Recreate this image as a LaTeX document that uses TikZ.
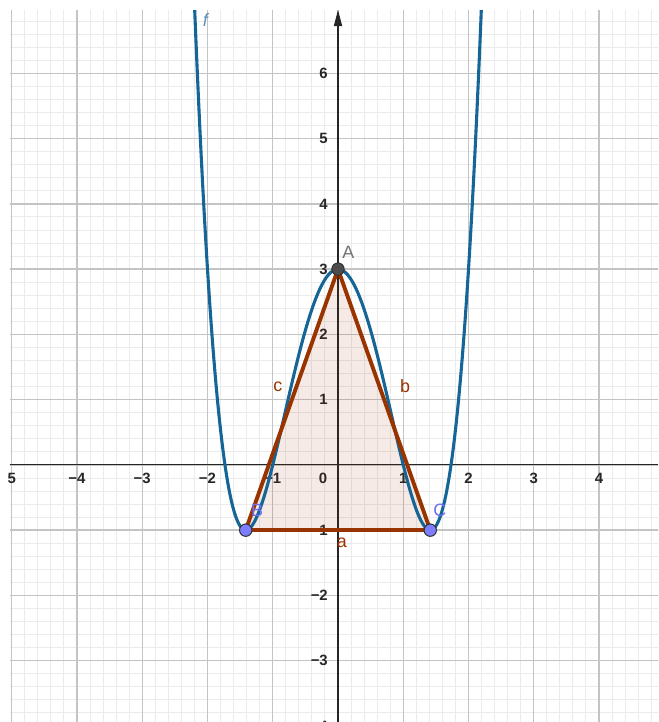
\documentclass[tikz,border=0pt]{standalone}
\usepackage{fontspec}
\setmainfont{Liberation Sans}
\usetikzlibrary{arrows.meta, positioning}
\definecolor{fblue}{RGB}{21,101,150}
\definecolor{tribrown}{RGB}{153,51,0}
\definecolor{vtxblue}{RGB}{125,125,255}
\definecolor{lblblue}{RGB}{110,110,240}
\tikzset{
	minorgrid/.style = {draw = black!8, line width = 0.4pt},
	majorgrid/.style = {draw = black!23, line width = 0.6pt},
	axis/.style = {draw = black!85, line width = 0.45pt},
	yaxis/.style = {axis, -{Triangle[length = 7pt, width = 3.6pt]}},
	curve/.style = {draw = fblue, line width = 1.35pt},
	tri/.style = {draw = tribrown, line width = 1.7pt, line join = round},
	trifill/.style = {fill = tribrown, fill opacity = 0.1},
	vtx/.style = {circle, inner sep = 0pt, minimum size = 5.4pt, draw = black!80, line width = 0.45pt},
	ticklbl/.style = {inner sep = 0pt, font = \fontsize{6.5}{7}\selectfont\bfseries, text = black!85},
	lbl/.style = {inner sep = 0pt, font = \fontsize{7.8}{9}\selectfont}
}
\begin{document}
\begin{tikzpicture}[x = 1cm, y = 1cm]
	\useasboundingbox (-5.18,-3.94) rectangle (4.905,7.125);

	%% grid
	\begin{scope}
		\clip (-5.03,-3.94) rectangle (4.905,6.97);
		\draw [minorgrid] (-5.2,-4.2) grid [step = 0.2] (5.2,7.2);
		\draw [majorgrid] (-5.2,-4.2) grid [step = 1] (5.2,7.2);
	\end{scope}

	%% axes
	\coordinate (xl) at (-5.03,0);
	\coordinate (xr) at (4.905,0);
	\coordinate (yb) at (0,-3.94);
	\coordinate (yt) at (0,6.97);
	\draw [axis] (xl) -- (xr);
	\draw [yaxis] (yb) -- (yt);

	% tick labels
	\foreach \x/\t in {-4/−4, -3/−3, -2/−2, -1/−1, 1/1, 2/2, 3/3, 4/4}
		\node [ticklbl] (xt\x) at (\x,-0.2) {\t};
	\node [ticklbl] (xt-5) at (-5.0,-0.2) {5};
	\node [ticklbl] (orig) at (-0.23,-0.2) {0};
	\foreach \y/\t in {-4/−4, -3/−3, -2/−2, -1/−1, 1/1, 2/2, 3/3, 4/4, 5/5, 6/6}
		\node [ticklbl, anchor = east] (yt\y) at (-0.15,\y) {\t};

	%% triangle
	\coordinate (A) at (0,3);
	\coordinate (B) at (-1.41421,-1);
	\coordinate (C) at (1.41421,-1);
	\fill [trifill] (A) -- (B) -- (C) -- cycle;

	%% f
	\begin{scope}
		\clip (-5.03,-3.94) rectangle (4.905,6.97);
		\draw [curve] plot [domain = -2.21:2.21, samples = 200, smooth] (\x,{\x*\x*\x*\x - 4*\x*\x + 3});
	\end{scope}
	\node [lbl, text = fblue!70] (flbl) at (-2.02,6.82) {\textit{f}};

	% sides
	\draw [tri] (B) -- (C);
	\draw [tri] (C) -- (A);
	\draw [tri] (A) -- (B);
	\node [lbl, text = tribrown] (alb) at (0.06,-1.2) {a};
	\node [lbl, text = tribrown] (blb) at (1.03,1.2) {b};
	\node [lbl, text = tribrown] (clb) at (-0.92,1.2) {c};

	% vertices
	\node [vtx, fill = black!70] (Apt) at (A) {};
	\node [vtx, fill = vtxblue] (Bpt) at (B) {};
	\node [vtx, fill = vtxblue] (Cpt) at (C) {};
	\node [lbl, text = black!55] (Alb) at (0.16,3.26) {A};
	\node [lbl, text = lblblue] (Blb) at (-1.24,-0.69) {B};
	\node [lbl, text = lblblue] (Clb) at (1.56,-0.69) {C};
\end{tikzpicture}
\end{document}
